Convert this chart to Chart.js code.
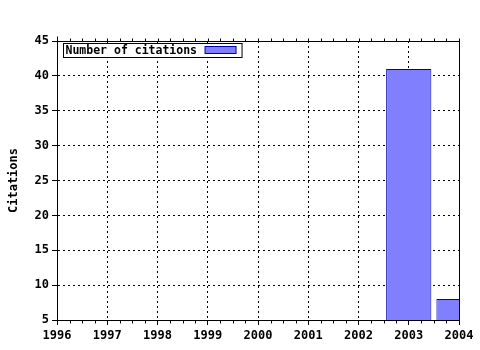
<!DOCTYPE html>
<html>
<head>
<meta charset="utf-8">
<script src="https://cdn.jsdelivr.net/npm/chart.js@4/dist/chart.umd.min.js"></script>
<style>
  body { margin: 0; background: #fff; }
  #wrap { width: 480px; height: 350px; }
</style>
</head>
<body>
<div id="wrap"><canvas id="chart" width="480" height="350"></canvas></div>
<script>
// Data
const years = [2003, 2004];
const citations = [41, 8];
const seriesLabel = 'Number of citations';
const axisTitle = 'Citations';

const monoFont = { family: "'DejaVu Sans Mono', 'Liberation Mono', monospace", size: 12, weight: 'bold' };

// frame, minor ticks and the boxed legend inside the plot
const framePlugin = {
    id: 'frame',
    afterDraw(chart) {
        const ctx = chart.ctx;
        const a = chart.chartArea;
        const xs = chart.scales.x;
        const L = Math.round(a.left) + 0.5, R = Math.round(a.right) + 0.5;
        const T = Math.round(a.top) + 0.5, B = Math.round(a.bottom) + 0.5;
        ctx.save();
        ctx.strokeStyle = '#000';
        ctx.lineWidth = 1;
        ctx.beginPath();
        ctx.moveTo(L, T - 5); ctx.lineTo(L, B);
        ctx.moveTo(L, T); ctx.lineTo(R, T); ctx.lineTo(R, B);
        ctx.moveTo(L, B); ctx.lineTo(R, B);
        // minor ticks every quarter year, top and bottom
        for (let v = xs.min; v <= xs.max + 1e-9; v += 0.25) {
            const px = Math.round(xs.getPixelForValue(v)) + 0.5;
            ctx.moveTo(px, T); ctx.lineTo(px, T - 3);
            if (Math.abs(v - Math.round(v)) > 1e-6) {
                ctx.moveTo(px, B); ctx.lineTo(px, B + 3);
            }
        }
        ctx.stroke();

        // legend box
        const ds = chart.data.datasets[0];
        ctx.font = `bold 11.5px ${monoFont.family}`;
        const tw = ctx.measureText(ds.label).width;
        const bx = L + 6, by = T + 2;
        const sw = 31, bw = tw + sw + 16, bh = 14;
        ctx.fillStyle = '#fff';
        ctx.fillRect(bx, by, bw, bh);
        ctx.strokeRect(bx, by, bw, bh);
        ctx.fillStyle = '#000';
        ctx.textBaseline = 'middle';
        ctx.textAlign = 'left';
        ctx.fillText(ds.label, bx + 2, by + bh / 2 + 1);
        const sx = bx + bw - sw - 6;
        ctx.fillStyle = ds.backgroundColor;
        ctx.fillRect(sx, by + 3, sw, 7);
        ctx.strokeStyle = ds.borderColor;
        ctx.strokeRect(sx, by + 3, sw, 7);
        ctx.restore();
    }
};

new Chart(document.getElementById('chart'), {
    type: 'bar',
    data: {
        datasets: [{
            label: seriesLabel,
            data: years.map((y, i) => ({ x: y, y: citations[i] })),
            backgroundColor: '#8080ff',
            borderColor: '#0000b0',
            borderWidth: 1,
            barPercentage: 0.9,
            categoryPercentage: 1.0
        }]
    },
    options: {
        responsive: false,
        animation: false,
        layout: { padding: { top: 41, right: 21, left: 0, bottom: 0 } },
        plugins: {
            legend: { display: false },
            tooltip: { enabled: false }
        },
        scales: {
            x: {
                type: 'linear',
                min: 1996,
                max: 2004,
                offset: false,
                ticks: {
                    stepSize: 1,
                    color: '#000',
                    font: monoFont,
                    padding: 4,
                    maxRotation: 0,
                    callback: v => String(v)
                },
                grid: { color: '#000', tickColor: '#000', tickLength: 5, lineWidth: 1, offset: false },
                border: { display: true, color: '#000', dash: [2, 3] },
                afterFit(scale) { scale.height = 30; }
            },
            y: {
                min: 5,
                max: 45,
                ticks: { stepSize: 5, color: '#000', font: monoFont, padding: 3 },
                grid: { color: '#000', tickColor: '#000', tickLength: 5, lineWidth: 1 },
                border: { display: true, color: '#000', dash: [2, 3] },
                title: {
                    display: true,
                    text: axisTitle,
                    color: '#000',
                    font: monoFont,
                    padding: { top: 7, bottom: 4 }
                },
                afterFit(scale) { scale.width = 57; }
            }
        }
    },
    plugins: [framePlugin]
});
</script>
</body>
</html>
